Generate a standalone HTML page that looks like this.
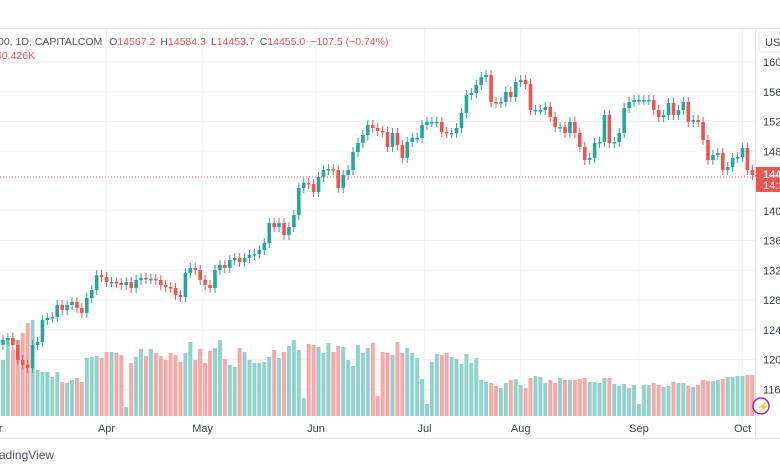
<!DOCTYPE html>
<html><head><meta charset="utf-8"><style>
body{margin:0;background:#fff;font-family:"Liberation Sans",sans-serif;}
#wrap{position:relative;width:780px;height:470px;overflow:hidden;background:#fff}
svg text{font-family:"Liberation Sans",sans-serif}
</style></head><body>
<div id="wrap">
<svg id="chart" width="780" height="470"></svg>
</div>
<script>
const closes=[12264,12291,12196,11995,11928,11887,12196,12237,12532,12559,12573,12734,12667,12734,12774,12694,12627,12828,12936,13137,13110,13043,13043,13030,13003,13043,12963,13070,13097,13084,13084,13070,13003,12976,12963,12868,12842,13164,13231,13204,13070,13003,12963,13204,13272,13231,13339,13366,13312,13366,13406,13420,
13473,13567,13836,13782,13836,13675,13782,13944,14307,14374,14360,14253,14454,14548,14562,14548,14307,14481,14548,14790,14911,15019,15153,15113,15073,15059,14858,15046,14884,14710,14925,14979,14979,15153,15194,15194,15194,15059,15046,15046,15113,15315,15556,15583,15691,15798,15825,15462,15449,15462,15597,15530,
15731,15758,15704,15355,15355,15355,15395,15261,15126,15126,15046,15194,15046,14858,14683,14710,14911,14925,15288,14911,14925,15046,15382,15462,15489,15489,15489,15489,15355,15261,15288,15449,15288,15355,15462,15194,15220,15194,14952,14683,14750,14777,14548,14589,14710,14723,14844,14548,14481,14455];
const firstOpen=12200;
const volumes=[56,78,66,76,83,93,96,46,44,44,39,44,34,33,36,38,34,58,59,60,58,64,64,63,61,9,53,59,67,60,67,63,60,56,63,61,54,63,74,56,67,53,65,68,76,57,51,49,68,64,56,53,53,54,59,66,58,64,70,76,66,18,72,71,69,63,73,64,70,69,56,50,71,63,68,73,20,64,63,61,
74,63,68,63,58,37,12,54,62,61,63,59,57,52,62,53,58,36,34,33,30,28,33,36,37,31,28,38,40,39,33,36,33,38,36,36,36,37,38,34,34,33,38,38,32,30,32,28,31,12,31,31,33,31,29,30,34,33,33,30,29,31,36,35,35,36,37,39,39,40,40,41,41];
const priceTicks=[16000,15600,15200,14800,14400,14000,13600,13200,12800,12400,12000,11600];
const priceTickLabels=["16000","15600","15200","14800","14400","14000","13600","13200","12800","12400","12000","11600"];
const monthLabels=["r","Apr","May","Jun","Jul","Aug","Sep","Oct"];
const monthIdx=[-0.5,21,40.5,63.5,85.5,105,129,150];
const lastPrice=14455.0;

const svg=document.getElementById('chart');
const NS='http://www.w3.org/2000/svg';
const yP=p=>62+(16000-p)*0.0744;
const xI=i=>3+i*4.93;
const yV=v=>416-v;
function mk(tag,attrs,parent){const e=document.createElementNS(NS,tag);for(const k in attrs)e.setAttribute(k,attrs[k]);(parent||svg).appendChild(e);return e;}

const grid=mk('g',{});


priceTicks.forEach(p=>{const l=mk('line',{x1:0,x2:755,y1:yP(p),y2:yP(p),stroke:'#f0f3fa','stroke-width':1},grid);

});
monthIdx.forEach(i=>{if(i<0)return;const l=mk('line',{x1:xI(i),x2:xI(i),y1:28,y2:438,stroke:'#f0f3fa','stroke-width':1},grid);

});
mk('line',{x1:0,x2:780,y1:28.5,y2:28.5,stroke:'#e0e3eb'});
mk('line',{x1:0,x2:780,y1:438.5,y2:438.5,stroke:'#e0e3eb'});
mk('line',{x1:755.5,x2:755.5,y1:28,y2:438,stroke:'#e0e3eb'});

const vg=mk('g',{});


const opens=closes.map((c,i)=>i===0?firstOpen:closes[i-1]);
volumes.forEach((v,i)=>{if(i>=closes.length)return;const up=closes[i]>=opens[i];
const r=mk('rect',{x:xI(i)-2,y:yV(v),width:4,height:v,fill:up?'#92d2cc':'#f7a9a7'},vg);

});

const cg=mk('g',{});


closes.forEach((c,i)=>{const o=opens[i];const up=c>=o;const col=up?'#26a69a':'#ef5350';
const yt=yP(Math.max(o,c)),yb=yP(Math.min(o,c));
const w=mk('line',{x1:xI(i),x2:xI(i),y1:yt-5,y2:yb+5,stroke:col,'stroke-width':1},cg);


const b=mk('rect',{x:xI(i)-1.8,y:yt,width:3.6,height:Math.max(1.5,yb-yt),fill:col},cg);

});

const lp=mk('line',{x1:0,x2:755,y1:yP(lastPrice),y2:yP(lastPrice),stroke:'#ef5350','stroke-width':1,'stroke-dasharray':'1,2'});



priceTicks.forEach((p,i)=>{if(Math.abs(p-lastPrice)<150)return;const t=mk('text',{x:763,y:yP(p)+4,'font-size':11,fill:'#3a3e4a'});t.textContent=priceTickLabels[i];

});
const pb=mk('rect',{x:756,y:yP(lastPrice)-10,width:30,height:25,fill:'#ef5350'});


const t1=mk('text',{x:763,y:yP(lastPrice)+1,'font-size':11,fill:'#fff','font-weight':'bold'});t1.textContent='14455.0';


const t2=mk('text',{x:763,y:yP(lastPrice)+12,'font-size':11,fill:'#fff'});t2.textContent='14:32:10';



monthLabels.forEach((m,i)=>{const t=mk('text',{x:xI(monthIdx[i]),y:432,'font-size':11,fill:'#3a3e4a','text-anchor':'middle'});t.textContent=m;

});

const ub=mk('rect',{x:759,y:32,width:30,height:20,rx:3,fill:'#fff',stroke:'#e0e3eb'});


const ut=mk('text',{x:765,y:46,'font-size':11,fill:'#3a3e4a'});ut.textContent='USD';



const li=mk('circle',{cx:761,cy:406,r:8,fill:'#fff',stroke:'#9c27b0','stroke-width':1.5});


const lt=mk('text',{x:757,y:410,'font-size':10,fill:'#9c27b0'});lt.textContent='⚡';



const h=mk('text',{x:-2,y:45,'font-size':10.5,fill:'#50535e'});


h.innerHTML='00, 1D, CAPITALCOM <tspan dx="4">O</tspan><tspan fill="#ef5350">14567.2</tspan><tspan dx="5">H</tspan><tspan fill="#ef5350">14584.3</tspan><tspan dx="5">L</tspan><tspan fill="#ef5350">14453.7</tspan><tspan dx="5">C</tspan><tspan fill="#ef5350">14455.0</tspan><tspan dx="5" fill="#ef5350">−107.5 (−0.74%)</tspan>';
const h2=mk('text',{x:-4,y:59,'font-size':10.5,fill:'#ef5350'});h2.textContent='40.426K';


const tv=mk('text',{x:-12,y:459,'font-size':12,fill:'#50535e'});tv.textContent='TradingView';


</script>
</body></html>
